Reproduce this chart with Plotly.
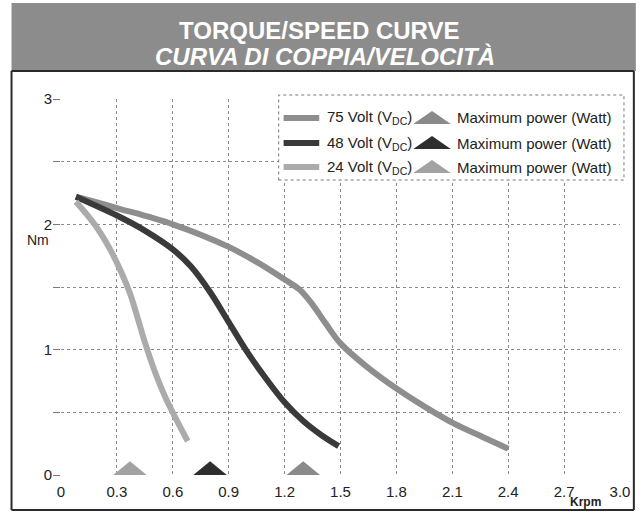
import plotly.graph_objects as go

# ---- data ----
speed_75 = [0.08, 0.3, 0.6, 0.9, 1.05, 1.2, 1.28, 1.35, 1.42, 1.5, 1.64, 1.81, 1.98, 2.11, 2.26, 2.4]
torque_75 = [2.22, 2.13, 2.0, 1.82, 1.70, 1.56, 1.48, 1.36, 1.21, 1.05, 0.865, 0.68, 0.52, 0.41, 0.305, 0.21]

speed_48 = [0.08, 0.3, 0.45, 0.6, 0.7, 0.8, 0.9, 1.0, 1.1, 1.2, 1.3, 1.4, 1.49]
torque_48 = [2.22, 2.07, 1.95, 1.80, 1.66, 1.46, 1.22, 0.98, 0.77, 0.58, 0.43, 0.315, 0.23]

speed_24 = [0.08, 0.18, 0.26, 0.32, 0.37, 0.41, 0.45, 0.5, 0.56, 0.62, 0.68]
torque_24 = [2.18, 2.0, 1.81, 1.63, 1.45, 1.26, 1.06, 0.84, 0.62, 0.44, 0.27]

max_power_speed = {"75": 1.30, "48": 0.80, "24": 0.37}

x_tick_vals = [0, 0.3, 0.6, 0.9, 1.2, 1.5, 1.8, 2.1, 2.4, 2.7, 3.0]
x_tick_text = ["0", "0.3", "0.6", "0.9", "1.2", "1.5", "1.8", "2.1", "2.4", "2.7", "3.0"]
y_tick_vals = [0, 1, 2, 3]
y_tick_text = ["0", "1", "2", "3"]
y_minor_vals = [0.5, 1.5, 2.5]

series_names = ["75", "48", "24"]
legend_labels = ["75 Volt (V<sub>DC</sub>)", "48 Volt (V<sub>DC</sub>)", "24 Volt (V<sub>DC</sub>)"]
power_label = "Maximum power (Watt)"

# ---- styles ----
colors = {"75": "#8e8e8e", "48": "#3a3a3a", "24": "#ababab"}
tri_colors = {"75": "#8a8a8a", "48": "#2e2e2e", "24": "#a2a2a2"}
TRI_HALF = 0.09   # krpm
TRI_H = 0.11      # Nm
FONT = "Liberation Sans, Arial, sans-serif"
GRID = "#8a8a8a"

W, H = 642, 512
L, R, T, B = 61, 16, 99, 37
PW, PH = W - L - R, H - T - B


def px(x):
    return (x - L) / PW


def py(y):
    return (H - B - y) / PH


fig = go.Figure()

curves = {"75": (speed_75, torque_75), "48": (speed_48, torque_48), "24": (speed_24, torque_24)}
for k in series_names:
    xs, ys = curves[k]
    fig.add_trace(go.Scatter(x=xs, y=ys, mode="lines",
                             line=dict(color=colors[k], width=6, shape="spline", smoothing=1.0),
                             showlegend=False, hoverinfo="skip"))

for k in series_names:
    c = max_power_speed[k]
    fig.add_trace(go.Scatter(x=[c - TRI_HALF, c, c + TRI_HALF, c - TRI_HALF],
                             y=[0, TRI_H, 0, 0], mode="lines", fill="toself",
                             fillcolor=tri_colors[k], line=dict(width=0, color=tri_colors[k]),
                             showlegend=False, hoverinfo="skip"))

shapes = []
annotations = []

# banner
shapes.append(dict(type="rect", xref="paper", yref="paper", x0=px(11), x1=px(642), y0=py(71), y1=py(3),
                   fillcolor="#8c8c8c", line=dict(width=0), layer="below"))
annotations.append(dict(xref="paper", yref="paper", x=px(322), y=py(31), text="<b>TORQUE/SPEED CURVE</b>",
                        showarrow=False, font=dict(family=FONT, size=24, color="white"),
                        xanchor="center", yanchor="middle"))
annotations.append(dict(xref="paper", yref="paper", x=px(328), y=py(56), text="<b><i>CURVA DI COPPIA/VELOCITÀ</i></b>",
                        showarrow=False, font=dict(family=FONT, size=24, color="white"),
                        xanchor="center", yanchor="middle"))

# outer frame
for (x0, y0, x1, y1) in [(11, 71, 11, 510), (640, 71, 640, 510), (11, 510, 640, 510), (11, 71, 640, 71)]:
    shapes.append(dict(type="line", xref="paper", yref="paper", x0=px(x0), y0=py(y0), x1=px(x1), y1=py(y1),
                       line=dict(color="#2a2a2a", width=2), layer="above"))

# legend box
shapes.append(dict(type="rect", xref="paper", yref="paper", x0=px(281), x1=px(630), y0=py(180), y1=py(95),
                   fillcolor="white", line=dict(color="#777", width=1, dash="dot"), layer="above"))
rows_y = [118, 143, 167]
for i, k in enumerate(series_names):
    yy = rows_y[i]
    shapes.append(dict(type="line", xref="paper", yref="paper", x0=px(286), x1=px(322), y0=py(yy), y1=py(yy),
                       line=dict(color=colors[k], width=6), layer="above"))
    shapes.append(dict(type="path", xref="paper", yref="paper",
                       path=f"M {px(417)},{py(yy + 6)} L {px(436)},{py(yy - 7)} L {px(455)},{py(yy + 6)} Z",
                       fillcolor=tri_colors[k], line=dict(width=0), layer="above"))
    annotations.append(dict(xref="paper", yref="paper", x=px(328), y=py(yy), text=legend_labels[i],
                            showarrow=False, xanchor="left", yanchor="middle",
                            font=dict(family=FONT, size=15, color="#222")))
    annotations.append(dict(xref="paper", yref="paper", x=px(459), y=py(yy), text=power_label,
                            showarrow=False, xanchor="left", yanchor="middle",
                            font=dict(family=FONT, size=15, color="#222")))

# axis unit labels
annotations.append(dict(xref="paper", yref="paper", x=px(38), y=py(240), text="Nm", showarrow=False,
                        font=dict(family=FONT, size=14, color="#222"), xanchor="center", yanchor="middle"))
annotations.append(dict(xref="paper", yref="paper", x=px(591), y=py(502), text="<b>Krpm</b>", showarrow=False,
                        font=dict(family=FONT, size=12, color="#222"), xanchor="center", yanchor="middle"))

fig.update_layout(
    width=W, height=H,
    margin=dict(l=L, r=R, t=T, b=B),
    paper_bgcolor="white", plot_bgcolor="white",
    shapes=shapes, annotations=annotations,
    showlegend=False,
    font=dict(family=FONT, size=15, color="#222"),
)
fig.update_xaxes(range=[0, 3.0], tickvals=x_tick_vals, ticktext=x_tick_text,
                 showgrid=True, gridcolor=GRID, griddash="dot", gridwidth=1,
                 zeroline=False, showline=False, ticks="", tickfont=dict(size=15),
                 ticklabelstandoff=6)
fig.update_yaxes(range=[0, 3.0], tickvals=y_tick_vals, ticktext=y_tick_text,
                 showgrid=True, gridcolor=GRID, griddash="dot", gridwidth=1,
                 zeroline=False, showline=False, ticks="outside", ticklen=7, tickcolor="#777",
                 tickfont=dict(size=15), ticklabelstandoff=-2,
                 minor=dict(tickvals=y_minor_vals, showgrid=True, gridcolor=GRID, griddash="dot",
                            gridwidth=1, ticks="outside", ticklen=7, tickcolor="#777"))

fig.write_html("out.html", config={"displayModeBar": False},
               post_script="document.body.style.margin='0';document.body.style.overflow='hidden';")
